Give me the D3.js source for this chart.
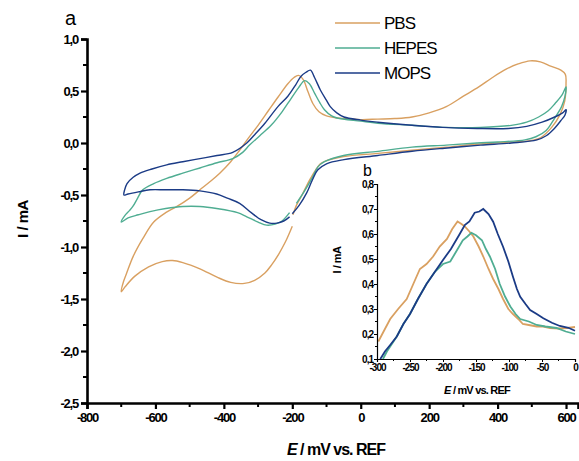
<!DOCTYPE html>
<html>
<head>
<meta charset="utf-8">
<script src="https://cdn.jsdelivr.net/npm/d3@7"></script>
<style>
body { margin: 0; background: #fff; }
svg text { font-family: "Liberation Sans", Arial, sans-serif; }
</style>
</head>
<body>
<script>
"use strict";
// cyclic voltammograms, [E (mV), I (mA)] in scan order
const pbs = [[-200,-0.80],[-220,-0.95],[-240,-1.07],[-260,-1.17],[-280,-1.25],[-310,-1.32],[-340,-1.35],[-380,-1.34],[-420,-1.29],[-470,-1.21],[-520,-1.15],[-550,-1.13],[-580,-1.14],[-620,-1.19],[-660,-1.28],[-688,-1.38],[-700,-1.43],
  [-693,-1.33],[-684,-1.25],[-665,-1.09],[-637,-0.92],[-605,-0.76],[-570,-0.67],[-537,-0.61],[-500,-0.53],[-470,-0.45],[-440,-0.37],[-412,-0.29],[-380,-0.18],[-354,-0.07],[-330,0.04],[-300,0.17],[-270,0.31],[-242,0.44],[-213,0.57],[-195,0.63],[-182,0.65],[-168,0.61],[-155,0.50],[-140,0.38],[-122,0.30],[-100,0.26],[-69,0.24],[0,0.225],[50,0.23],[100,0.235],[150,0.25],[200,0.29],[250,0.35],[300,0.45],[345,0.54],[385,0.63],[425,0.71],[460,0.76],[495,0.79],[525,0.78],[555,0.74],[585,0.70],[598,0.66],[600,0.57],
  [596,0.40],[582,0.27],[558,0.15],[525,0.05],[490,0.02],[440,0.01],[350,-0.01],[250,-0.04],[150,-0.07],[50,-0.10],[-50,-0.13],[-100,-0.17],[-118,-0.20],[-132,-0.26],[-150,-0.36],[-170,-0.49],[-188,-0.60],[-198,-0.69]];
const hepes = [[-208,-0.67],[-230,-0.75],[-250,-0.78],[-275,-0.79],[-300,-0.76],[-333,-0.71],[-360,-0.67],[-421,-0.63],[-470,-0.61],[-520,-0.61],[-570,-0.63],[-616,-0.66],[-650,-0.69],[-680,-0.72],[-700,-0.76],
  [-690,-0.70],[-676,-0.65],[-666,-0.61],[-652,-0.53],[-637,-0.45],[-605,-0.39],[-567,-0.34],[-520,-0.29],[-470,-0.24],[-420,-0.19],[-374,-0.15],[-345,-0.09],[-325,-0.02],[-295,0.07],[-262,0.17],[-230,0.30],[-205,0.42],[-182,0.53],[-164,0.60],[-150,0.57],[-135,0.48],[-120,0.39],[-106,0.32],[-85,0.26],[-69,0.24],[0,0.21],[50,0.19],[150,0.17],[250,0.15],[350,0.15],[440,0.17],[485,0.20],[520,0.25],[548,0.31],[568,0.38],[588,0.46],[600,0.54],
  [597,0.45],[587,0.35],[567,0.24],[542,0.12],[512,0.06],[480,0.03],[400,0.01],[340,0.0],[250,-0.02],[150,-0.04],[50,-0.08],[-50,-0.12],[-106,-0.18],[-125,-0.23],[-141,-0.33],[-164,-0.46],[-188,-0.58]];
const mops = [[-208,-0.71],[-225,-0.75],[-245,-0.77],[-266,-0.77],[-290,-0.74],[-320,-0.67],[-354,-0.58],[-390,-0.53],[-421,-0.49],[-470,-0.46],[-520,-0.45],[-570,-0.45],[-616,-0.45],[-650,-0.47],[-680,-0.49],[-692,-0.50],
  [-690,-0.45],[-683,-0.39],[-665,-0.33],[-645,-0.29],[-610,-0.25],[-567,-0.21],[-520,-0.18],[-470,-0.15],[-420,-0.12],[-374,-0.09],[-333,0.0],[-310,0.08],[-280,0.19],[-242,0.35],[-213,0.45],[-190,0.56],[-175,0.64],[-160,0.68],[-147,0.70],[-135,0.63],[-118,0.51],[-100,0.41],[-89,0.35],[-70,0.29],[-49,0.25],[0,0.22],[50,0.20],[150,0.17],[240,0.15],[340,0.14],[431,0.14],[485,0.16],[530,0.20],[567,0.25],[590,0.29],[600,0.32],
  [597,0.27],[586,0.22],[566,0.14],[542,0.07],[515,0.03],[440,0.0],[350,-0.02],[245,-0.05],[150,-0.08],[50,-0.12],[-49,-0.16],[-100,-0.20],[-126,-0.26],[-142,-0.36],[-158,-0.48],[-180,-0.60],[-200,-0.68]];

// inset: anodic peak region
const pbsPeak = [[-298,0.17],[-290,0.21],[-280,0.26],[-268,0.30],[-255,0.34],[-245,0.40],[-235,0.46],[-225,0.48],[-215,0.51],[-205,0.55],[-194,0.58],[-186,0.62],[-178,0.65],[-172,0.64],[-167,0.63],[-160,0.61],[-154,0.59],[-146,0.55],[-139,0.51],[-131,0.46],[-124,0.42],[-116,0.38],[-109,0.34],[-101,0.30],[-94,0.28],[-86,0.26],[-79,0.24],[-68,0.235],[-58,0.23],[-48,0.23],[-38,0.224],[-25,0.222],[-12,0.224],[0,0.228]];
const hepesPeak = [[-291,0.10],[-285,0.13],[-280,0.15],[-270,0.19],[-260,0.24],[-250,0.28],[-238,0.34],[-225,0.40],[-212,0.45],[-200,0.48],[-189,0.49],[-180,0.53],[-170,0.575],[-163,0.59],[-157,0.605],[-150,0.595],[-141,0.575],[-135,0.54],[-129,0.51],[-121,0.46],[-114,0.40],[-106,0.35],[-98,0.31],[-90,0.28],[-83,0.26],[-70,0.25],[-58,0.236],[-45,0.23],[-28,0.224],[-14,0.21],[0,0.20]];
const mopsPeak = [[-295,0.10],[-288,0.13],[-280,0.156],[-270,0.19],[-260,0.24],[-250,0.28],[-238,0.34],[-225,0.40],[-212,0.45],[-200,0.496],[-188,0.54],[-174,0.603],[-167,0.636],[-160,0.65],[-152,0.685],[-145,0.69],[-139,0.70],[-131,0.68],[-124,0.649],[-117,0.60],[-109,0.549],[-101,0.49],[-94,0.429],[-88,0.38],[-83,0.349],[-75,0.32],[-68,0.296],[-58,0.28],[-48,0.263],[-35,0.245],[-23,0.232],[-10,0.225],[0,0.213]];

const series = ["PBS", "HEPES", "MOPS"];
const colors = ["#d9a061", "#4fad92", "#1b3b86"];
const mainData = [pbs, hepes, mops];
const insetData = [pbsPeak, hepesPeak, mopsPeak];

const xTicks = [-800, -600, -400, -200, 0, 200, 400, 600];
const yTicks = [1.0, 0.5, 0.0, -0.5, -1.0, -1.5, -2.0, -2.5];
const ixTicks = [-300, -250, -200, -150, -100, -50, 0];
const iyTicks = [0.1, 0.2, 0.3, 0.4, 0.5, 0.6, 0.7, 0.8];

const fmt = d => d3.format(".1f")(d).replace(".", ",").replace("−", "-");

const svg = d3.select("body").append("svg").attr("width", 579).attr("height", 461);

// main panel
const x = d3.scaleLinear().domain([-800, 635]).range([87, 578]);
const y = d3.scaleLinear().domain([-2.5, 1.0]).range([403, 39]);

const line = d3.line().x(d => x(d[0])).y(d => y(d[1])).curve(d3.curveCatmullRom.alpha(0.5));

mainData.forEach((s, i) => {
  svg.append("path").datum(s).attr("d", line)
    .attr("fill", "none").attr("stroke", colors[i]).attr("stroke-width", 1.4);
});

const xMinor = d3.range(-700, 650, 200);
const yMinor = d3.range(-2.25, 1.0, 0.5);

const gx = svg.append("g").attr("transform", "translate(0,403)");
gx.call(d3.axisBottom(x).tickValues(xTicks).tickSize(6).tickPadding(4).tickFormat(d => d));
gx.selectAll(".minor").data(xMinor).enter().append("line").attr("class", "minor")
  .attr("x1", d => x(d)).attr("x2", d => x(d)).attr("y1", 0).attr("y2", 4).attr("stroke", "#000").attr("stroke-width", 2);

const gy = svg.append("g").attr("transform", "translate(87,0)");
gy.call(d3.axisLeft(y).tickValues(yTicks).tickSize(6).tickPadding(3).tickFormat(fmt));
gy.selectAll(".minor").data(yMinor).enter().append("line").attr("class", "minor")
  .attr("y1", d => y(d)).attr("y2", d => y(d)).attr("x1", 0).attr("x2", -4).attr("stroke", "#000").attr("stroke-width", 2);

[gx, gy].forEach(g => {
  g.select(".domain").attr("stroke-width", 2.6);
  g.selectAll(".tick line").attr("stroke-width", 2.2);
  g.selectAll(".tick text").attr("fill", "#000").style("font-size", "13px").style("font-weight", "bold").style("letter-spacing", "-1.2px");
});

svg.append("text").attr("x", 65).attr("y", 25).style("font-size", "20px").text("a");

const xl = svg.append("text").attr("x", 336).attr("y", 455).attr("text-anchor", "middle")
  .style("font-size", "16px").style("font-weight", "bold").style("letter-spacing", "-1px");
xl.append("tspan").style("font-style", "italic").text("E");
xl.append("tspan").text(" / mV vs. REF");

svg.append("text").attr("transform", "translate(28,219) rotate(-90)").attr("text-anchor", "middle")
  .style("font-size", "15px").style("font-weight", "bold").style("letter-spacing", "-0.5px").text("I / mA");

// legend
const leg = svg.append("g");
series.forEach((name, i) => {
  const yy = 23 + i * 25;
  leg.append("line").attr("x1", 335).attr("x2", 380).attr("y1", yy).attr("y2", yy)
    .attr("stroke", colors[i]).attr("stroke-width", 1.4);
  leg.append("text").attr("x", 384).attr("y", yy + 6).style("font-size", "17px")
    .style("letter-spacing", "-1px").text(name);
});

// inset panel
const ix = d3.scaleLinear().domain([-300, 0]).range([377, 575]);
const iy = d3.scaleLinear().domain([0.1, 0.8]).range([359, 184]);
const iline = d3.line().x(d => ix(d[0])).y(d => iy(d[1]));

insetData.forEach((s, i) => {
  svg.append("path").datum(s).attr("d", iline)
    .attr("fill", "none").attr("stroke", colors[i]).attr("stroke-width", 1.8);
});

const igx = svg.append("g").attr("transform", "translate(0,359)");
igx.call(d3.axisBottom(ix).tickValues(ixTicks).tickSize(3).tickPadding(2).tickFormat(d => d));
igx.selectAll(".minor").data(d3.range(-275, 0, 50)).enter().append("line").attr("class", "minor")
  .attr("x1", d => ix(d)).attr("x2", d => ix(d)).attr("y1", 0).attr("y2", 2).attr("stroke", "#000");

const igy = svg.append("g").attr("transform", "translate(377,0)");
igy.call(d3.axisLeft(iy).tickValues(iyTicks).tickSize(3).tickPadding(1).tickFormat(fmt));
igy.selectAll(".minor").data(d3.range(0.15, 0.8, 0.1)).enter().append("line").attr("class", "minor")
  .attr("y1", d => iy(d)).attr("y2", d => iy(d)).attr("x1", 0).attr("x2", -2).attr("stroke", "#000");

[igx, igy].forEach(g => {
  g.select(".domain").attr("stroke-width", 1.2);
  g.selectAll(".tick text").attr("fill", "#000").style("font-size", "10px").style("font-weight", "bold").style("letter-spacing", "-1px");
});

svg.append("text").attr("x", 363).attr("y", 176).style("font-size", "16px").text("b");

const ixl = svg.append("text").attr("x", 477).attr("y", 394).attr("text-anchor", "middle")
  .style("font-size", "11px").style("font-weight", "bold").style("letter-spacing", "-0.8px");
ixl.append("tspan").style("font-style", "italic").text("E");
ixl.append("tspan").text(" / mV vs. REF");

svg.append("text").attr("transform", "translate(341,260) rotate(-90)").attr("text-anchor", "middle")
  .style("font-size", "11px").style("font-weight", "bold").style("letter-spacing", "-0.5px").text("I / mA");
</script>
</body>
</html>
